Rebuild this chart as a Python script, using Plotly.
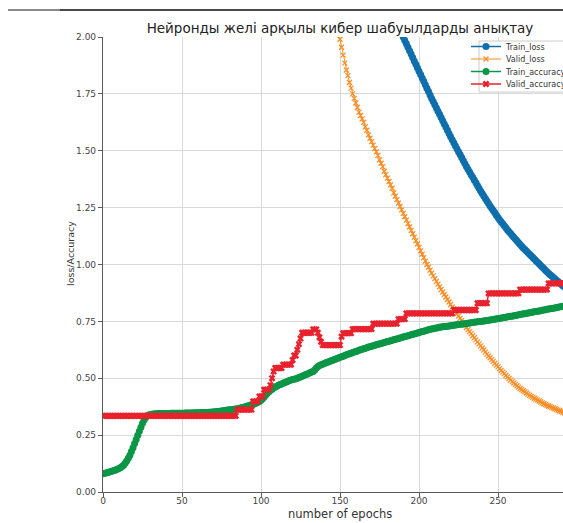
import plotly.graph_objects as go

# ---------------- data ----------------
epochs = list(range(300))

train_loss = [
    6.39, 6.36, 6.33, 6.29, 6.26, 6.23, 6.20, 6.17, 6.13, 6.10,
    6.07, 6.04, 6.01, 5.98, 5.95, 5.91, 5.88, 5.85, 5.82, 5.79,
    5.76, 5.73, 5.70, 5.67, 5.64, 5.61, 5.58, 5.55, 5.52, 5.49,
    5.46, 5.43, 5.40, 5.37, 5.34, 5.31, 5.29, 5.26, 5.23, 5.20,
    5.17, 5.14, 5.11, 5.09, 5.06, 5.03, 5.00, 4.98, 4.95, 4.92,
    4.89, 4.86, 4.84, 4.81, 4.78, 4.76, 4.73, 4.70, 4.68, 4.65,
    4.62, 4.59, 4.57, 4.54, 4.52, 4.49, 4.47, 4.44, 4.42, 4.39,
    4.36, 4.34, 4.31, 4.29, 4.26, 4.24, 4.21, 4.19, 4.16, 4.13,
    4.11, 4.09, 4.06, 4.04, 4.02, 3.99, 3.97, 3.95, 3.92, 3.89,
    3.87, 3.85, 3.82, 3.80, 3.78, 3.76, 3.73, 3.71, 3.69, 3.66,
    3.64, 3.62, 3.60, 3.57, 3.55, 3.53, 3.51, 3.49, 3.46, 3.44,
    3.42, 3.40, 3.38, 3.36, 3.34, 3.32, 3.29, 3.27, 3.25, 3.23,
    3.21, 3.19, 3.17, 3.15, 3.13, 3.11, 3.09, 3.07, 3.05, 3.03,
    3.01, 2.99, 2.97, 2.95, 2.93, 2.92, 2.90, 2.88, 2.86, 2.84,
    2.82, 2.80, 2.78, 2.77, 2.75, 2.73, 2.71, 2.70, 2.68, 2.66,
    2.64, 2.62, 2.61, 2.59, 2.57, 2.56, 2.54, 2.52, 2.51, 2.49,
    2.47, 2.45, 2.44, 2.42, 2.41, 2.39, 2.37, 2.36, 2.34, 2.33,
    2.31, 2.29, 2.28, 2.26, 2.25, 2.23, 2.22, 2.20, 2.19, 2.17,
    2.150, 2.135, 2.120, 2.105, 2.090, 2.075, 2.060, 2.045, 2.030, 2.015,
    2.000, 1.985, 1.970, 1.955, 1.940, 1.925, 1.910, 1.895, 1.880, 1.865,
    1.850, 1.835, 1.820, 1.805, 1.790, 1.775, 1.760, 1.745, 1.730, 1.716,
    1.702, 1.688, 1.674, 1.660, 1.646, 1.632, 1.618, 1.604, 1.590, 1.576,
    1.562, 1.548, 1.535, 1.522, 1.509, 1.496, 1.483, 1.470, 1.457, 1.444,
    1.431, 1.419, 1.407, 1.395, 1.383, 1.371, 1.359, 1.347, 1.335, 1.323,
    1.312, 1.301, 1.290, 1.279, 1.268, 1.257, 1.247, 1.237, 1.227, 1.217,
    1.207, 1.197, 1.188, 1.179, 1.170, 1.161, 1.152, 1.144, 1.136, 1.128,
    1.120, 1.112, 1.104, 1.096, 1.088, 1.080, 1.073, 1.066, 1.059, 1.052,
    1.045, 1.038, 1.031, 1.024, 1.017, 1.010, 1.003, 0.996, 0.989, 0.982,
    0.975, 0.968, 0.961, 0.955, 0.949, 0.943, 0.937, 0.931, 0.925, 0.919,
    0.913, 0.907, 0.901, 0.895, 0.889, 0.883, 0.877, 0.871, 0.865, 0.860,
]

valid_loss = [
    5.63, 5.62, 5.61, 5.60, 5.59, 5.59, 5.58, 5.57, 5.56, 5.55,
    5.54, 5.53, 5.52, 5.51, 5.50, 5.49, 5.48, 5.47, 5.45, 5.44,
    5.43, 5.42, 5.41, 5.39, 5.38, 5.37, 5.35, 5.34, 5.33, 5.31,
    5.30, 5.29, 5.27, 5.26, 5.24, 5.23, 5.21, 5.20, 5.18, 5.17,
    5.15, 5.13, 5.12, 5.10, 5.08, 5.07, 5.05, 5.03, 5.02, 5.00,
    4.98, 4.96, 4.94, 4.92, 4.90, 4.88, 4.86, 4.84, 4.82, 4.80,
    4.78, 4.76, 4.74, 4.71, 4.69, 4.67, 4.65, 4.63, 4.60, 4.58,
    4.56, 4.54, 4.51, 4.49, 4.46, 4.44, 4.41, 4.39, 4.36, 4.34,
    4.31, 4.28, 4.26, 4.23, 4.20, 4.18, 4.15, 4.12, 4.10, 4.07,
    4.04, 4.01, 3.98, 3.95, 3.92, 3.89, 3.86, 3.83, 3.80, 3.77,
    3.74, 3.71, 3.68, 3.64, 3.61, 3.58, 3.55, 3.51, 3.48, 3.45,
    3.42, 3.39, 3.35, 3.32, 3.28, 3.25, 3.22, 3.18, 3.15, 3.12,
    3.08, 3.04, 3.01, 2.97, 2.94, 2.90, 2.87, 2.83, 2.79, 2.76,
    2.72, 2.68, 2.65, 2.61, 2.57, 2.54, 2.50, 2.46, 2.43, 2.39,
    2.35, 2.31, 2.28, 2.24, 2.20, 2.165, 2.13, 2.09, 2.055, 2.020,
    1.990, 1.955, 1.920, 1.885, 1.855, 1.830, 1.800, 1.775, 1.750, 1.730,
    1.710, 1.690, 1.670, 1.655, 1.640, 1.625, 1.605, 1.590, 1.570, 1.555,
    1.540, 1.525, 1.510, 1.495, 1.480, 1.460, 1.445, 1.430, 1.410, 1.395,
    1.380, 1.365, 1.350, 1.335, 1.315, 1.300, 1.285, 1.270, 1.255, 1.240,
    1.225, 1.210, 1.195, 1.180, 1.165, 1.150, 1.135, 1.120, 1.105, 1.090,
    1.075, 1.060, 1.045, 1.030, 1.015, 1.000, 0.988, 0.975, 0.962, 0.950,
    0.938, 0.926, 0.914, 0.902, 0.890, 0.879, 0.868, 0.857, 0.846, 0.835,
    0.824, 0.813, 0.803, 0.793, 0.783, 0.773, 0.763, 0.753, 0.743, 0.733,
    0.723, 0.714, 0.705, 0.696, 0.687, 0.678, 0.669, 0.660, 0.651, 0.642,
    0.633, 0.624, 0.615, 0.606, 0.598, 0.590, 0.582, 0.574, 0.566, 0.558,
    0.550, 0.542, 0.534, 0.527, 0.520, 0.513, 0.506, 0.499, 0.492, 0.485,
    0.479, 0.473, 0.467, 0.461, 0.455, 0.450, 0.445, 0.440, 0.435, 0.430,
    0.425, 0.420, 0.416, 0.412, 0.408, 0.404, 0.400, 0.396, 0.392, 0.388,
    0.384, 0.381, 0.378, 0.375, 0.372, 0.369, 0.366, 0.363, 0.360, 0.357,
    0.354, 0.351, 0.348, 0.346, 0.344, 0.342, 0.340, 0.338, 0.336, 0.334,
]

train_accuracy = [
    0.080, 0.082, 0.084, 0.086, 0.088, 0.090, 0.092, 0.094, 0.097, 0.100,
    0.103, 0.107, 0.112, 0.118, 0.126, 0.136, 0.148, 0.162, 0.178, 0.195,
    0.213, 0.231, 0.249, 0.267, 0.285, 0.302, 0.317, 0.328, 0.335, 0.339,
    0.341, 0.342, 0.343, 0.344, 0.344, 0.345, 0.345, 0.345, 0.345, 0.345,
    0.345, 0.345, 0.345, 0.346, 0.346, 0.346, 0.346, 0.346, 0.346, 0.346,
    0.346, 0.346, 0.347, 0.347, 0.347, 0.347, 0.347, 0.347, 0.348, 0.348,
    0.348, 0.348, 0.349, 0.349, 0.349, 0.350, 0.350, 0.351, 0.351, 0.352,
    0.352, 0.353, 0.354, 0.354, 0.355, 0.356, 0.357, 0.358, 0.359, 0.360,
    0.361, 0.362, 0.363, 0.364, 0.365, 0.366, 0.367, 0.369, 0.371, 0.373,
    0.375, 0.377, 0.379, 0.381, 0.383, 0.385, 0.388, 0.391, 0.394, 0.398,
    0.403, 0.410, 0.418, 0.426, 0.434, 0.441, 0.447, 0.452, 0.457, 0.461,
    0.465, 0.469, 0.472, 0.475, 0.478, 0.481, 0.484, 0.487, 0.490, 0.492,
    0.494, 0.496, 0.498, 0.500, 0.503, 0.506, 0.509, 0.512, 0.515, 0.518,
    0.521, 0.524, 0.527, 0.530, 0.536, 0.545, 0.552, 0.556, 0.559, 0.562,
    0.565, 0.568, 0.570, 0.573, 0.576, 0.578, 0.581, 0.584, 0.587, 0.589,
    0.592, 0.595, 0.597, 0.600, 0.603, 0.605, 0.608, 0.610, 0.613, 0.615,
    0.618, 0.620, 0.623, 0.625, 0.627, 0.630, 0.632, 0.634, 0.637, 0.639,
    0.641, 0.643, 0.645, 0.647, 0.649, 0.651, 0.653, 0.655, 0.657, 0.659,
    0.661, 0.663, 0.665, 0.667, 0.669, 0.671, 0.673, 0.675, 0.677, 0.679,
    0.681, 0.683, 0.685, 0.687, 0.689, 0.691, 0.693, 0.695, 0.697, 0.699,
    0.701, 0.703, 0.705, 0.707, 0.709, 0.711, 0.713, 0.715, 0.717, 0.718,
    0.720, 0.721, 0.722, 0.724, 0.725, 0.726, 0.727, 0.728, 0.729, 0.730,
    0.731, 0.732, 0.733, 0.734, 0.735, 0.736, 0.737, 0.738, 0.739, 0.740,
    0.741, 0.742, 0.743, 0.744, 0.745, 0.746, 0.747, 0.748, 0.749, 0.750,
    0.751, 0.752, 0.753, 0.754, 0.755, 0.756, 0.757, 0.758, 0.759, 0.761,
    0.762, 0.763, 0.765, 0.766, 0.767, 0.768, 0.770, 0.771, 0.772, 0.773,
    0.775, 0.776, 0.777, 0.779, 0.780, 0.781, 0.783, 0.784, 0.785, 0.787,
    0.788, 0.789, 0.791, 0.792, 0.793, 0.795, 0.796, 0.797, 0.799, 0.800,
    0.801, 0.803, 0.804, 0.805, 0.807, 0.808, 0.809, 0.811, 0.812, 0.813,
    0.815, 0.816, 0.817, 0.819, 0.820, 0.821, 0.823, 0.824, 0.825, 0.827,
]

valid_accuracy = [
    0.335, 0.335, 0.335, 0.335, 0.335, 0.335, 0.335, 0.335, 0.335, 0.335,
    0.335, 0.335, 0.335, 0.335, 0.335, 0.335, 0.335, 0.335, 0.335, 0.335,
    0.335, 0.335, 0.335, 0.335, 0.335, 0.335, 0.335, 0.335, 0.335, 0.335,
    0.335, 0.335, 0.335, 0.335, 0.335, 0.335, 0.335, 0.335, 0.335, 0.335,
    0.335, 0.335, 0.335, 0.335, 0.335, 0.335, 0.335, 0.335, 0.335, 0.335,
    0.335, 0.335, 0.335, 0.335, 0.335, 0.335, 0.335, 0.335, 0.335, 0.335,
    0.335, 0.335, 0.335, 0.335, 0.335, 0.335, 0.335, 0.335, 0.335, 0.335,
    0.335, 0.335, 0.335, 0.335, 0.335, 0.335, 0.335, 0.335, 0.335, 0.335,
    0.335, 0.335, 0.335, 0.335, 0.335, 0.362, 0.362, 0.362, 0.362, 0.362,
    0.362, 0.362, 0.362, 0.362, 0.362, 0.398, 0.398, 0.398, 0.398, 0.420,
    0.420, 0.420, 0.450, 0.450, 0.450, 0.450, 0.470, 0.500, 0.530, 0.545,
    0.545, 0.545, 0.545, 0.545, 0.560, 0.560, 0.560, 0.560, 0.560, 0.560,
    0.580, 0.600, 0.600, 0.625, 0.650, 0.675, 0.700, 0.700, 0.700, 0.700,
    0.700, 0.700, 0.700, 0.715, 0.715, 0.715, 0.700, 0.680, 0.660, 0.646,
    0.646, 0.646, 0.646, 0.646, 0.646, 0.646, 0.646, 0.646, 0.646, 0.646,
    0.646, 0.683, 0.698, 0.698, 0.698, 0.698, 0.698, 0.698, 0.716, 0.716,
    0.716, 0.716, 0.716, 0.716, 0.716, 0.716, 0.716, 0.716, 0.716, 0.716,
    0.716, 0.740, 0.740, 0.740, 0.740, 0.740, 0.740, 0.740, 0.740, 0.740,
    0.740, 0.740, 0.740, 0.740, 0.740, 0.740, 0.740, 0.760, 0.760, 0.760,
    0.760, 0.760, 0.785, 0.785, 0.785, 0.785, 0.785, 0.785, 0.785, 0.785,
    0.785, 0.785, 0.785, 0.785, 0.785, 0.785, 0.785, 0.785, 0.785, 0.785,
    0.785, 0.785, 0.785, 0.785, 0.785, 0.785, 0.785, 0.785, 0.785, 0.785,
    0.785, 0.785, 0.800, 0.800, 0.800, 0.800, 0.800, 0.800, 0.800, 0.800,
    0.800, 0.800, 0.800, 0.800, 0.800, 0.800, 0.800, 0.830, 0.830, 0.830,
    0.830, 0.830, 0.830, 0.830, 0.873, 0.873, 0.873, 0.873, 0.873, 0.873,
    0.873, 0.873, 0.873, 0.873, 0.873, 0.873, 0.873, 0.873, 0.873, 0.873,
    0.873, 0.873, 0.873, 0.873, 0.890, 0.890, 0.890, 0.890, 0.890, 0.890,
    0.890, 0.890, 0.890, 0.890, 0.890, 0.890, 0.890, 0.890, 0.890, 0.890,
    0.890, 0.890, 0.917, 0.917, 0.917, 0.917, 0.917, 0.917, 0.917, 0.917,
    0.917, 0.917, 0.917, 0.917, 0.917, 0.917, 0.917, 0.917, 0.917, 0.917,
]

series_names = ["Train_loss", "Valid_loss", "Train_accuracy", "Valid_accuracy"]
y_ticks = [0, 0.25, 0.5, 0.75, 1.0, 1.25, 1.5, 1.75, 2.0]
x_ticks = [0, 50, 100, 150, 200, 250]

title_text = "Нейронды желі арқылы кибер шабуылдарды анықтау"
x_label = "number of epochs"
y_label = "loss/Accuracy"

# ---------------- figure ----------------
FONT = "DejaVu Sans"
W, H = 563, 523
ML, MR, MT, MB = 103, 0, 37, 31
PW = W - ML - MR
PH = H - MT - MB


def px_x(px):
    return (px - ML) / PW


def px_y(py):
    return (H - MB - py) / PH


styles = [
    dict(color="#0f6fad", symbol="circle", size=7, lw=1.5, mlw=0),
    dict(color="#fb8c23", symbol="x-thin", size=5, lw=1.0, mlw=1.2),
    dict(color="#0a9646", symbol="circle", size=7, lw=1.5, mlw=0),
    dict(color="#e8222d", symbol="x", size=6, lw=1.5, mlw=0),
]
values = [train_loss, valid_loss, train_accuracy, valid_accuracy]
legend_ids = ["legend", "legend2", "legend3", "legend4"]
legend_rows_px = [46.5, 59.0, 71.5, 84.0]

fig = go.Figure()
for name, vals, st, lid in zip(series_names, values, styles, legend_ids):
    marker = dict(color=st["color"], symbol=st["symbol"], size=st["size"])
    if st["mlw"]:
        marker["line"] = dict(color=st["color"], width=st["mlw"])
    else:
        marker["line"] = dict(width=0)
    fig.add_trace(go.Scatter(
        x=epochs, y=vals, name=name, mode="lines+markers",
        line=dict(color=st["color"], width=st["lw"]),
        marker=marker, legend=lid,
    ))

legend_common = dict(
    xref="paper", yref="paper", xanchor="left", yanchor="middle",
    x=px_x(466), bgcolor="rgba(0,0,0,0)", borderwidth=0,
    font=dict(family=FONT, size=8, color="#333333"),
    itemwidth=30, itemclick=False, itemdoubleclick=False,
)
legend_layout = {}
for lid, row in zip(legend_ids, legend_rows_px):
    d = dict(legend_common)
    d["y"] = px_y(row)
    legend_layout[lid] = d

axis_common = dict(
    showline=True, linecolor="#5a5a5a", linewidth=1.2,
    ticks="outside", ticklen=4, tickwidth=1, tickcolor="#5a5a5a",
    showgrid=True, gridcolor="#d9d9d9", gridwidth=1,
    zeroline=False, mirror=False,
    tickfont=dict(family=FONT, size=9, color="#444444"),
)

fig.update_layout(
    width=W, height=H,
    margin=dict(l=ML, r=MR, t=MT, b=MB, pad=0, autoexpand=False),
    paper_bgcolor="white", plot_bgcolor="white",
    showlegend=True,
    title=dict(
        text=title_text, x=px_x(340), xref="paper", xanchor="center",
        y=1 - 28.5 / H, yref="container", yanchor="middle",
        font=dict(family=FONT, size=13.5, color="#222222"),
    ),
    xaxis=dict(range=[0, (W - ML) / 1.58], tickvals=x_ticks,
               ticklabelstandoff=-4, **axis_common),
    yaxis=dict(range=[0, 2.0], tickvals=y_ticks, tickformat=".2f", **axis_common),
    annotations=[
        dict(text=x_label, x=px_x(340), y=px_y(514), xref="paper", yref="paper",
             xanchor="center", yanchor="middle", showarrow=False,
             font=dict(family=FONT, size=11.5, color="#333333")),
        dict(text=y_label, x=px_x(70), y=px_y(254), xref="paper", yref="paper",
             xanchor="center", yanchor="middle", showarrow=False, textangle=-90,
             font=dict(family=FONT, size=9.5, color="#333333")),
    ],
    shapes=[
        # legend frame
        dict(type="rect", xref="paper", yref="paper",
             x0=px_x(479), x1=px_x(620), y0=px_y(92), y1=px_y(41),
             fillcolor="rgba(255,255,255,0.88)", line=dict(color="#cccccc", width=1),
             layer="above"),
        # top border line of the screenshot
        dict(type="line", xref="paper", yref="paper",
             x0=px_x(8), x1=px_x(60), y0=px_y(10), y1=px_y(10),
             line=dict(color="#8a8a8a", width=2)),
        dict(type="line", xref="paper", yref="paper",
             x0=px_x(60), x1=px_x(563), y0=px_y(10), y1=px_y(10),
             line=dict(color="#4a4a4a", width=2)),
    ],
    **legend_layout,
)

fig.write_html(
    "out.html",
    config={"displayModeBar": False},
    post_script="document.body.style.margin='0';document.body.style.overflow='hidden';",
)
